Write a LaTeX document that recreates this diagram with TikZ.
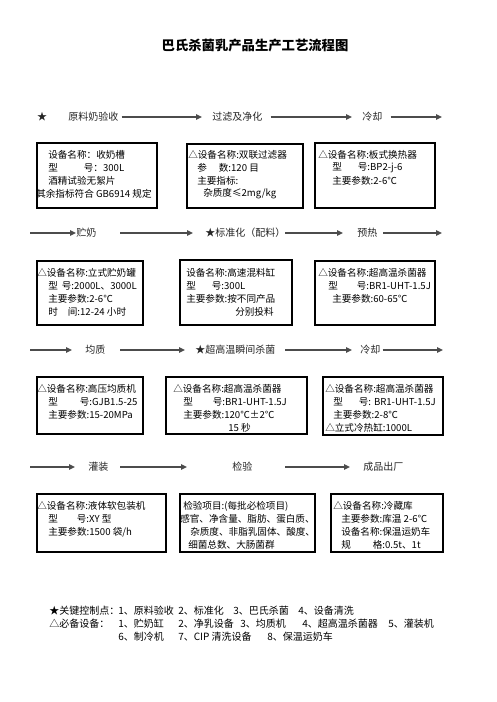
\documentclass[tikz,border=0pt]{standalone}
\usepackage{fontspec}
\setmainfont{Noto Sans CJK SC}
\usetikzlibrary{arrows.meta}
\newcommand\gap[1]{\hspace{#1\dimexpr0.75pt\relax}}
\tikzset{
  lbl/.style={anchor=west, inner sep=0pt, text=black!85, font=\fontsize{7.5pt}{9pt}\selectfont},
  txt/.style={anchor=west, inner sep=0pt, font=\fontsize{7.2pt}{9pt}\selectfont},
  leg/.style={anchor=west, inner sep=0pt, font=\fontsize{7.5pt}{9pt}\selectfont},
  box/.style={draw, line width=0.9pt, inner sep=0pt},
  arr/.style={draw=black!70, line width=1.2pt, -{Triangle[length=4.5pt,width=4pt]}},
}
\begin{document}
\begin{tikzpicture}[x=0.75pt,y=-0.75pt]
\useasboundingbox (0,0) rectangle (496,702);
\fill[white] (0,0) rectangle (496,702);
% title
\node[inner sep=0pt, font=\fontsize{10pt}{12pt}\selectfont\bfseries] (title) at (255,45) {巴氏杀菌乳产品生产工艺流程图};

% ---------- row 1
\node[lbl, anchor=center] (r1star) at (42,117) {★};
\node[lbl] (r1a) at (68,117) {原料奶验收};
\node[lbl] (r1b) at (212,117) {过滤及净化};
\node[lbl] (r1c) at (362,117) {冷却};
\coordinate (r1e) at (442,117);
\draw[arr] (r1a.east) ++(3,0) coordinate (r1as) -- (202,117) coordinate (r1ae);
\draw[arr] (r1b.east) ++(8,0) coordinate (r1bs) -- (352,117) coordinate (r1be);
\draw[arr] (r1c.east) ++(8,0) coordinate (r1cs) -- (r1e);

\node[box, minimum width=90pt, minimum height=48.75pt] (b1) at (97,175.5) {};
\node[txt] (b1a) at (48,155) {设备名称：收奶槽};
\node[txt] (b1b) at (48,168) {型\gap{26}号：300L};
\node[txt] (b1c) at (48,181) {酒精试验无絮片};
\node[txt] (b1d) at (36,194) {其余指标符合 GB6914 规定};

\node[box, minimum width=87pt, minimum height=48pt] (b2) at (245,176) {};
\node[txt] (b2a) at (188,155) {△设备名称:双联过滤器};
\node[txt] (b2b) at (197,168) {参\gap{12}数:120 目};
\node[txt] (b2c) at (197,181) {主要指标:};
\node[txt] (b2d) at (203,194) {杂质度≤2mg/kg};

\node[box, minimum width=90pt, minimum height=48.75pt] (b3) at (375,175.5) {};
\node[txt] (b3a) at (318,155) {△设备名称:板式换热器};
\node[txt] (b3b) at (332,168) {型\gap{16}号:BP2-j-6};
\node[txt] (b3c) at (332,181) {主要参数:2-6℃};

% ---------- row 2
\coordinate (r2s) at (30,233);
\node[lbl] (r2a) at (76,233) {贮奶};
\node[lbl] (r2b) at (205,233) {★标准化（配料）};
\node[lbl] (r2c) at (357,233) {预热};
\coordinate (r2e) at (442,233);
\draw[arr] (r2s) -- (r2a.west);
\draw[arr] (120,233) coordinate (r2as) -- (193,233) coordinate (r2ae);
\draw[arr] (285,233) coordinate (r2bs) -- (343,233) coordinate (r2be);
\draw[arr] (383,233) coordinate (r2cs) -- (r2e);

\node[box, minimum width=79.5pt, minimum height=48pt] (b4) at (90,293) {};
\node[txt] (b4a) at (37,273) {△设备名称:立式贮奶罐};
\node[txt] (b4b) at (48,286) {型\gap{4}号:2000L、3000L};
\node[txt] (b4c) at (48,299) {主要参数:2-6℃};
\node[txt] (b4d) at (48,312) {时\gap{10}间:12-24 小时};

\node[box, minimum width=84pt, minimum height=48.75pt] (b5) at (236,292.5) {};
\node[txt] (b5a) at (186,273) {设备名称:高速混料缸};
\node[txt] (b5b) at (186,286) {型\gap{16}号:300L};
\node[txt] (b5c) at (186,299) {主要参数:按不同产品};
\node[txt] (b5d) at (235,312) {分别投料};

\node[box, minimum width=90pt, minimum height=48pt] (b6) at (375,293) {};
\node[txt] (b6a) at (318,273) {△设备名称:超高温杀菌器};
\node[txt] (b6b) at (328,286) {型\gap{19}号:BR1-UHT-1.5J};
\node[txt] (b6c) at (332,299) {主要参数:60-65℃};

% ---------- row 3
\coordinate (r3s) at (30,350);
\node[lbl] (r3a) at (85,350) {均质};
\node[lbl] (r3b) at (195,350) {★超高温瞬间杀菌};
\node[lbl] (r3c) at (360,350) {冷却};
\coordinate (r3e) at (443,350);
\draw[arr] (r3s) -- (72,350) coordinate (r3ae);
\draw[arr] (120,350) coordinate (r3as) -- (185,350) coordinate (r3be);
\draw[arr] (285,350) coordinate (r3bs) -- (352,350) coordinate (r3ce);
\draw[arr] (r3c.east) ++(2,0) coordinate (r3cs) -- (r3e);

\node[box, minimum width=79.5pt, minimum height=42.75pt] (b7) at (90,405.5) {};
\node[txt] (b7a) at (37,389) {△设备名称:高压均质机};
\node[txt] (b7b) at (48,402) {型\gap{22}号:GJB1.5-25};
\node[txt] (b7c) at (48,415) {主要参数:15-20MPa};

\node[box, minimum width=105.75pt, minimum height=42.75pt] (b8) at (236.5,405.5) {};
\node[txt] (b8a) at (173,389) {△设备名称:超高温杀菌器};
\node[txt] (b8b) at (183,402) {型\gap{20}号:BR1-UHT-1.5J};
\node[txt] (b8c) at (183,415) {主要参数:120℃±2℃};
\node[txt] (b8d) at (228,428) {15 秒};

\node[box, minimum width=90pt, minimum height=43.5pt] (b9) at (383,406) {};
\node[txt] (b9a) at (325,389) {△设备名称:超高温杀菌器};
\node[txt] (b9b) at (333,402) {型\gap{16}号: BR1-UHT-1.5J};
\node[txt] (b9c) at (333,415) {主要参数:2-8℃};
\node[txt] (b9d) at (325,428) {△立式冷热缸:1000L};

% ---------- row 4
\coordinate (r4s) at (30,467);
\node[lbl] (r4a) at (88,467) {灌装};
\node[lbl] (r4b) at (232,467) {检验};
\node[lbl] (r4c) at (363,467) {成品出厂};
\draw[arr] (r4s) -- (75,467) coordinate (r4ae);
\draw[arr] (120,467) coordinate (r4as) -- (187,467) coordinate (r4be);
\draw[arr] (285,467) coordinate (r4bs) -- (350,467) coordinate (r4ce);

\node[box, minimum width=96.75pt, minimum height=43.5pt] (b10) at (101.5,523) {};
\node[txt] (b10a) at (37,506) {△设备名称:液体软包装机};
\node[txt] (b10b) at (48,519) {型\gap{19}号:XY 型};
\node[txt] (b10c) at (48,532) {主要参数:1500 袋/h};

\node[box, minimum width=101.25pt, minimum height=43.5pt] (b11) at (247.5,523) {};
\node[txt] (b11a) at (183,506) {检验项目:(每批必检项目)};
\node[txt] (b11b) at (180,519) {感官、净含量、脂肪、蛋白质、};
\node[txt] (b11c) at (190,532) {杂质度、非脂乳固体、酸度、};
\node[txt] (b11d) at (188,545) {细菌总数、大肠菌群};

\node[box, minimum width=84pt, minimum height=43.5pt] (b12) at (387,523) {};
\node[txt] (b12a) at (333,506) {△设备名称:冷藏库};
\node[txt] (b12b) at (341,519) {主要参数:库温 2-6℃};
\node[txt] (b12c) at (341,532) {设备名称:保温运奶车};
\node[txt] (b12d) at (341,545) {规\gap{22}格:0.5t、1t};

% ---------- legend
\node[leg] (l1a) at (49,611) {★关键控制点：};
\node[leg] (l1b) at (118,611) {1、原料验收};
\node[leg] (l1c) at (178,611) {2、标准化};
\node[leg] (l1d) at (233,611) {3、巴氏杀菌};
\node[leg] (l1e) at (298,611) {4、设备清洗};
\node[leg] (l2a) at (49,624) {△必备设备：};
\node[leg] (l2b) at (118,624) {1、贮奶缸};
\node[leg] (l2c) at (178,624) {2、净乳设备};
\node[leg] (l2d) at (240,624) {3、均质机};
\node[leg] (l2e) at (302,624) {4、超高温杀菌器};
\node[leg] (l2f) at (388,624) {5、灌装机};
\node[leg] (l3a) at (118,637) {6、制冷机};
\node[leg] (l3b) at (178,637) {7、CIP 清洗设备};
\node[leg] (l3c) at (267,637) {8、保温运奶车};
\end{tikzpicture}
\end{document}
